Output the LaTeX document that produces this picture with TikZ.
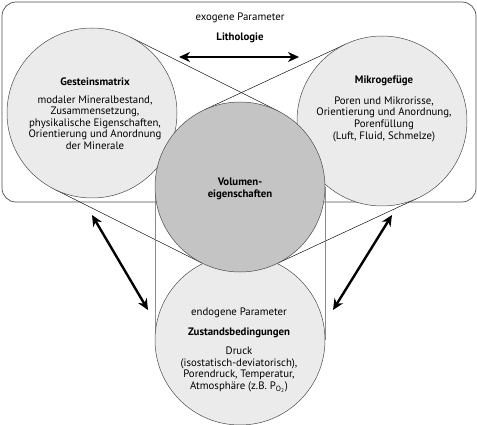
\documentclass[tikz,border=0pt]{standalone}
\usepackage{fontspec}
\setmainfont{PT Sans}
\usetikzlibrary{arrows.meta, calc}
\definecolor{xLight}{gray}{0.92}
\definecolor{xCore}{gray}{0.77}
\definecolor{xRim}{gray}{0.3}
\definecolor{xGuide}{gray}{0.55}
\tikzset{
  disc/.style={circle, draw=xRim, fill=xLight, line width=0.5pt, minimum size=170pt, inner sep=0pt},
  core/.style={circle, draw=xRim, fill=xCore, line width=0.5pt, minimum size=170pt, inner sep=0pt},
  frame/.style={draw=xRim, line width=0.7pt, rounded corners=14pt},
  tang/.style={black, line width=0.45pt},
  guide/.style={xGuide, line width=0.9pt},
  link/.style={{Stealth[length=11pt,width=10pt]}-{Stealth[length=11pt,width=10pt]}, line width=2.4pt},
  lbl/.style={align=center, inner sep=0pt, font=\fontsize{10.8}{11.6}\selectfont},
  head/.style={align=center, inner sep=0pt, font=\fontsize{10.8}{11.6}\selectfont\bfseries},
}

\begin{document}
\begin{tikzpicture}[x=1pt, y=-1pt]
    \useasboundingbox (0,0) rectangle (477,425);
    \draw[frame] (2,2) rectangle (476,202);
    % centres of the four discs
    \coordinate (pGM) at (92,113);
    \coordinate (pMG) at (382,121);
    \coordinate (pVE) at (240,187);
    \coordinate (pZB) at (240,340);
    % tangents to the core
    \draw[tang]  ($(pGM)!85pt!90:(pVE)$)  -- ($(pVE)!85pt!-90:(pGM)$);
    \draw[tang]  ($(pGM)!85pt!-90:(pVE)$) -- ($(pVE)!85pt!90:(pGM)$);
    \draw[tang]  ($(pMG)!85pt!-90:(pVE)$) -- ($(pVE)!85pt!90:(pMG)$);
    \draw[tang]  ($(pMG)!85pt!90:(pVE)$)  -- ($(pVE)!85pt!-90:(pMG)$);
    \draw[guide] ($(pVE)!85pt!90:(pZB)$)  -- ($(pZB)!85pt!-90:(pVE)$);
    \draw[guide] ($(pVE)!85pt!-90:(pZB)$) -- ($(pZB)!85pt!90:(pVE)$);
    \node[disc] (gm) at (pGM) {};
    \node[disc] (mg) at (pMG) {};
    \node[disc] (zb) at (pZB) {};
    \node[core] (ve) at (pVE) {};
    % labels
    \node[lbl]  (exo)   at (240,18)  {exogene Parameter};
    \node[head] (litho) at (240,38)  {Lithologie};
    \node[head] (gmT)   at (95,82)   {Gesteinsmatrix};
    \node[lbl]  (gmB)   at (95,122.5) {modaler Mineralbestand,\\Zusammensetzung,\\physikalische Eigenschaften,\\Orientierung und Anordnung\\der Minerale};
    \node[head] (mgT)   at (384,81)  {Mikrogefüge};
    \node[lbl]  (mgB)   at (384,119) {Poren und Mikrorisse,\\Orientierung und Anordnung,\\Porenfüllung\\(Luft, Fluid, Schmelze)};
    \node[head] (veT)   at (240,189) {Volumen-\\eigenschaften};
    \node[lbl]  (endo)  at (239,313) {endogene Parameter};
    \node[head] (zbT)   at (239,333) {Zustandsbedingungen};
    \node[lbl]  (zbB)   at (239,369.5) {Druck\\(isostatisch-deviatorisch),\\Porendruck, Temperatur,\\Atmosphäre (z.B. P\textsubscript{O\textsubscript{2}})};
    % double arrows
    \coordinate (a1) at (179,57);  \coordinate (b1) at (299,57);
    \coordinate (a2) at (92,215);  \coordinate (b2) at (148,310);
    \coordinate (a3) at (392,215); \coordinate (b3) at (333,310);
    \draw[link] (a1) -- (b1);
    \draw[link] (a2) -- (b2);
    \draw[link] (a3) -- (b3);
\end{tikzpicture}
\end{document}
